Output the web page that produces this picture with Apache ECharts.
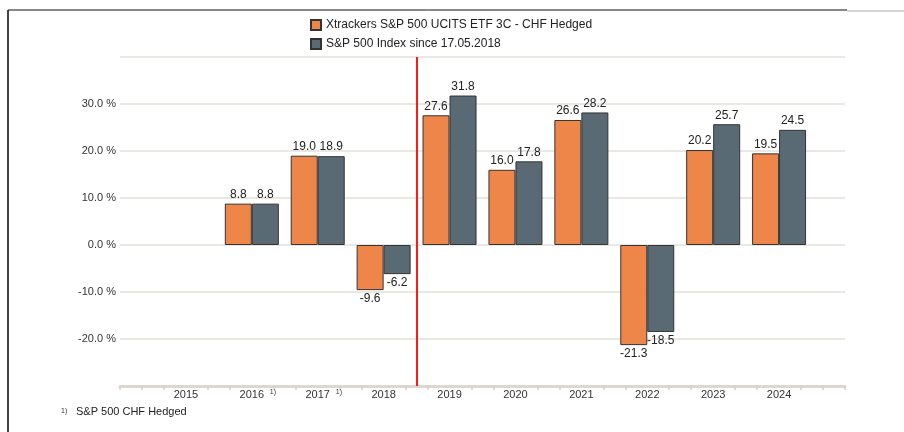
<!DOCTYPE html>
<html>
<head>
<meta charset="utf-8">
<title>Xtrackers S&amp;P 500 UCITS ETF 3C - CHF Hedged</title>
<script src="https://cdn.jsdelivr.net/npm/echarts@6/dist/echarts.min.js"></script>
<style>
  html, body { margin: 0; padding: 0; background: #fff; }
  #main { width: 904px; height: 432px; }
</style>
</head>
<body>
<div id="main"></div>
<script>
// data
var years = [2016, 2017, 2018, 2019, 2020, 2021, 2022, 2023, 2024];
var etfValues = [8.8, 19.0, -9.6, 27.6, 16.0, 26.6, -21.3, 20.2, 19.5];
var indexValues = [8.8, 18.9, -6.2, 31.8, 17.8, 28.2, -18.5, 25.7, 24.5];
var yearLabels = [2015, 2016, 2017, 2018, 2019, 2020, 2021, 2022, 2023, 2024];
var footnoteYears = [2016, 2017];
var yTickLabels = [-20, -10, 0, 10, 20, 30];
var seriesNames = ['Xtrackers S&P 500 UCITS ETF 3C - CHF Hedged', 'S&P 500 Index since 17.05.2018'];
var indexStart = 2018.5; // red line: index data since 17.05.2018

// small ticks every third of a year, none under the year labels
var minorTicks = [];
for (var i = 0; i <= 33; i++) {
    if (i % 3 === 0 && i > 0 && i < 33) continue;
    minorTicks.push(2014 + i / 3);
}

function toData(vals) {
    return vals.map(function (v, i) {
        return {
            value: [years[i], v],
            label: { position: v < 0 ? 'bottom' : 'top' }
        };
    });
}

var chart = echarts.init(document.getElementById('main'));

var barLabel = {
    show: true,
    fontSize: 12,
    color: '#222',
    distance: 3,
    formatter: function (p) { return p.value[1].toFixed(1); }
};

chart.setOption({
    backgroundColor: '#fff',
    animation: false,
    textStyle: { fontFamily: 'Liberation Sans, Arial, sans-serif' },
    legend: {
        orient: 'vertical',
        left: 305,
        top: 14,
        itemGap: 7,
        itemWidth: 10,
        itemHeight: 10,
        icon: 'rect',
        textStyle: { fontSize: 12, color: '#222' },
        data: seriesNames
    },
    grid: { left: 120, right: 59, top: 57, bottom: 46 },
    xAxis: {
        type: 'value',
        min: 2014,
        max: 2025,
        splitLine: { show: false },
        axisLine: { onZero: false, lineStyle: { color: '#dcd8cf', width: 3 } },
        axisTick: {
            show: true,
            length: 4,
            customValues: minorTicks,
            lineStyle: { color: '#d4d0c6', width: 1.5 }
        },
        axisLabel: {
            customValues: yearLabels,
            margin: 3,
            fontSize: 11,
            color: '#333',
            formatter: function (v) {
                if (footnoteYears.indexOf(v) >= 0) {
                    return '{p|}{y|' + v + '}{s|1)}';
                }
                return '{y|' + v + '}';
            },
            rich: {
                y: { fontSize: 11, color: '#333' },
                p: { width: 12 },
                s: { fontSize: 7, color: '#333', width: 12, align: 'right', verticalAlign: 'top', padding: [0, 0, 4, 0] }
            }
        }
    },
    yAxis: {
        type: 'value',
        min: -30,
        max: 40,
        interval: 10,
        axisLine: { show: false },
        axisTick: { show: false },
        splitLine: { lineStyle: { color: '#e3e0d8', width: 1.5 } },
        axisLabel: {
            margin: 4,
            fontSize: 11,
            color: '#333',
            formatter: function (v) {
                return yTickLabels.indexOf(v) >= 0 ? v.toFixed(1) + ' %' : '';
            }
        }
    },
    series: [
        {
            name: seriesNames[0],
            type: 'bar',
            barWidth: 27,
            barGap: '0%',
            itemStyle: { color: '#ee8649', borderColor: '#333', borderWidth: 1 },
            label: barLabel,
            data: toData(etfValues)
        },
        {
            name: seriesNames[1],
            type: 'bar',
            barWidth: 27,
            barGap: '0%',
            itemStyle: { color: '#5a6a75', borderColor: '#333', borderWidth: 1 },
            label: barLabel,
            data: toData(indexValues)
        },
        {
            // holder for the red marker line (not offset like bar markers)
            name: 'start',
            type: 'line',
            data: [],
            markLine: {
                silent: true,
                symbol: 'none',
                label: { show: false },
                emphasis: { disabled: true },
                lineStyle: { color: '#ff1a1a', type: 'solid', width: 2, opacity: 1 },
                data: [{ xAxis: indexStart }]
            }
        }
    ],
    graphic: [
        { type: 'line', shape: { x1: 8, y1: 10, x2: 8, y2: 432 }, style: { stroke: '#444', lineWidth: 2 } },
        { type: 'line', shape: { x1: 8, y1: 10, x2: 847, y2: 10 }, style: { stroke: '#111', lineWidth: 1 } },
        { type: 'line', shape: { x1: 847, y1: 11, x2: 904, y2: 11 }, style: { stroke: '#aaa', lineWidth: 1 } },
        { type: 'text', left: 61, top: 408, style: { text: '1)', fontSize: 7, fill: '#333', fontFamily: 'Liberation Sans, Arial, sans-serif' } },
        { type: 'text', left: 76, top: 406, style: { text: 'S&P 500 CHF Hedged', fontSize: 11, fill: '#222', fontFamily: 'Liberation Sans, Arial, sans-serif' } }
    ]
});
</script>
</body>
</html>
